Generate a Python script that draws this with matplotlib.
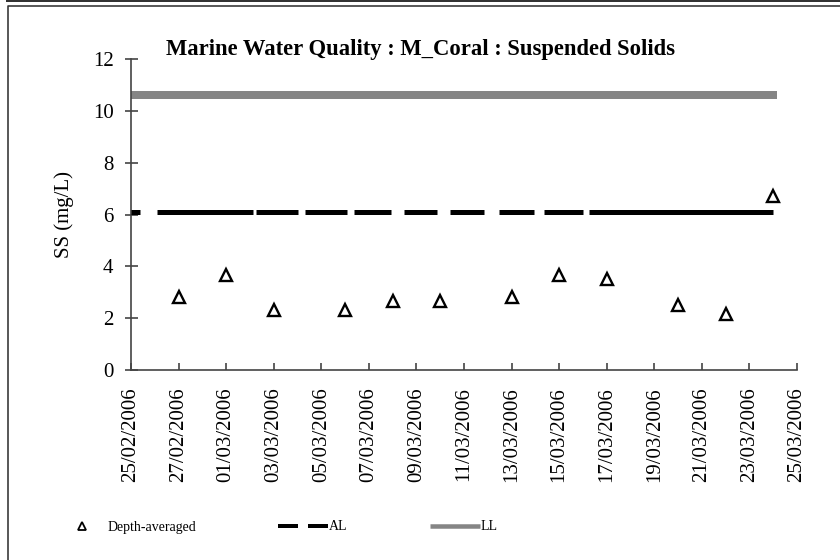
import matplotlib
matplotlib.use("Agg")
import matplotlib.pyplot as plt
import matplotlib.dates as mdates
from matplotlib.lines import Line2D
import pandas as pd

# ---- data -------------------------------------------------------------
sample_dates = ["2006-02-27", "2006-03-01", "2006-03-03", "2006-03-06",
                "2006-03-08", "2006-03-10", "2006-03-13", "2006-03-15",
                "2006-03-17", "2006-03-20", "2006-03-22", "2006-03-24"]
ss_depth_avg = [2.8, 3.65, 2.3, 2.3, 2.65, 2.65, 2.8, 3.65, 3.5, 2.5, 2.15, 6.7]

limit_dates = ["2006-02-25", "2006-03-24"]
al_level = [6.1, 6.1]
ll_level = [10.6, 10.6]

x_start, x_end = "2006-02-25", "2006-03-25"
y_ticks = [0, 2, 4, 6, 8, 10, 12]

title = "Marine Water Quality : M_Coral : Suspended Solids"
y_label = "SS (mg/L)"
legend_labels = ["Depth-averaged", "AL", "LL"]

# ---- style ------------------------------------------------------------
DPI = 100
W, H = 840, 560
px = 72.0 / DPI  # points per pixel

plt.rcParams["font.family"] = ["Liberation Serif", "DejaVu Serif"]
plt.rcParams["lines.scale_dashes"] = False

fig = plt.figure(figsize=(W / DPI, H / DPI), dpi=DPI)
fig.patch.set_facecolor("white")

# outer frame of the chart area
fig.add_artist(Line2D([7 / W, 1], [1 - 1.2 / H, 1 - 1.2 / H],
                      transform=fig.transFigure, color="#333333", lw=2 * px))
fig.add_artist(Line2D([8 / W, 8 / W, 1], [0, 1 - 5.5 / H, 1 - 5.5 / H],
                      transform=fig.transFigure, color="#333333", lw=1.6 * px))

ax = fig.add_axes([131 / W, 1 - 370 / H, (797 - 131) / W, (370 - 59) / H])

sd = pd.to_datetime(sample_dates)
ld = pd.to_datetime(limit_dates)

# LL line (grey, thick)
ax.plot(ld, ll_level, color="#858585", lw=8 * px, solid_capstyle="projecting",
        zorder=2)

# AL line (black, broken dashes)
al_dash_px = [9, 17, 96, 3, 42, 7, 42, 7, 37, 13, 33, 13, 34, 15, 35, 10,
              39, 6, 185, 40]
ax.plot(ld, al_level, color="black", lw=5 * px, dash_capstyle="butt",
        linestyle=(0, [d * px for d in al_dash_px]), zorder=3)

# depth-averaged samples
ax.plot(sd, ss_depth_avg, linestyle="none", marker="^",
        markersize=9, markerfacecolor="white", markeredgecolor="black",
        markeredgewidth=1.7, zorder=4, clip_on=False)

ax.set_xlim(pd.Timestamp(x_start), pd.Timestamp(x_end))
ax.set_ylim(0, 12)

ticks = pd.date_range(x_start, x_end, freq="2D")
ax.set_xticks(ticks)
ax.xaxis.set_major_formatter(mdates.DateFormatter("%d/%m/%Y"))
ax.set_yticks(y_ticks)

for s in ("top", "right"):
    ax.spines[s].set_visible(False)
for s in ("left", "bottom"):
    ax.spines[s].set_color("#444444")
    ax.spines[s].set_linewidth(1.2)

ax.tick_params(axis="x", direction="in", length=7 * px, width=1.2,
               color="#444444", pad=17 * px, labelsize=15, labelrotation=90)
ax.tick_params(axis="y", direction="inout", length=13 * px, width=1.2,
               color="#444444", pad=11 * px, labelsize=15)

ax.set_ylabel(y_label, fontsize=15)
ax.yaxis.set_label_coords(-(131 - 74) / (797 - 131), 0.5)

fig.text(420 / W, 1 - 49 / H, title, ha="center", va="center",
         fontsize=16.3, fontweight="bold")

# legend along the bottom
h_dep = Line2D([], [], linestyle="none", marker="^", markersize=5.5,
               markerfacecolor="white", markeredgecolor="black",
               markeredgewidth=1.3)
h_al = Line2D([], [], color="black", lw=4 * px, dash_capstyle="butt",
              linestyle=(0, [20 * px, 10 * px]))
h_ll = Line2D([], [], color="#858585", lw=4.5 * px, solid_capstyle="butt")

fs_leg = 10
fs_px = fs_leg / px
fig.legend([h_dep, h_al, h_ll], legend_labels, loc="center left",
           bbox_to_anchor=(57 / W, 1 - 527 / H), ncol=3, frameon=False,
           fontsize=fs_leg, handlelength=50 / fs_px, handletextpad=0.05,
           columnspacing=82 / fs_px, borderpad=0, borderaxespad=0)

fig.savefig("out.png", dpi=DPI, facecolor="white")
